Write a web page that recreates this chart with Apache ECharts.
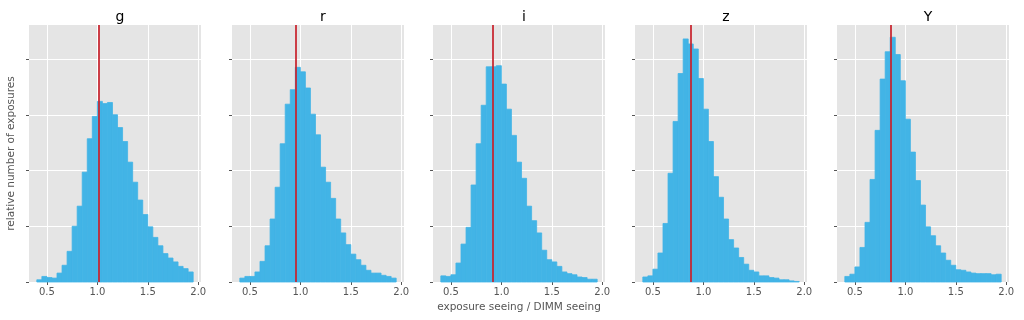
<!DOCTYPE html>
<html>
<head>
<meta charset="utf-8">
<script src="https://cdn.jsdelivr.net/npm/echarts@6/dist/echarts.min.js"></script>
<style>
  html, body { margin: 0; padding: 0; background: #fff; }
  #main { width: 1024px; height: 320px; }
</style>
</head>
<body>
<div id="main"></div>
<script>
var myChart = echarts.init(document.getElementById('main'));

// bin edges: 0.40 .. 1.95 step 0.05 (31 bins)
var binStarts = [0.40, 0.45, 0.50, 0.55, 0.60, 0.65, 0.70, 0.75, 0.80, 0.85,
                 0.90, 0.95, 1.00, 1.05, 1.10, 1.15, 1.20, 1.25, 1.30, 1.35,
                 1.40, 1.45, 1.50, 1.55, 1.60, 1.65, 1.70, 1.75, 1.80, 1.85, 1.90];
var binWidth = 0.05;

var filters = ['g', 'r', 'i', 'z', 'Y'];
var medians = [1.01, 0.95, 0.91, 0.88, 0.86];

// relative counts per bin
var gCounts = [0.04, 0.10, 0.08, 0.07, 0.16, 0.30, 0.55, 1.00, 1.36, 1.97,
               2.57, 2.97, 3.24, 3.20, 3.22, 3.00, 2.77, 2.52, 2.15, 1.79,
               1.47, 1.21, 0.99, 0.80, 0.65, 0.51, 0.43, 0.36, 0.28, 0.24, 0.18];
var rCounts = [0.07, 0.10, 0.10, 0.18, 0.37, 0.65, 1.13, 1.70, 2.48, 3.19,
               3.45, 3.85, 3.77, 3.48, 3.01, 2.64, 2.06, 1.79, 1.50, 1.13,
               0.88, 0.67, 0.50, 0.40, 0.30, 0.21, 0.16, 0.16, 0.12, 0.10, 0.07];
var iCounts = [0.11, 0.10, 0.13, 0.34, 0.68, 0.98, 1.74, 2.48, 3.17, 3.86,
               3.86, 3.88, 3.55, 3.10, 2.63, 2.15, 1.86, 1.36, 1.10, 0.88,
               0.57, 0.40, 0.36, 0.28, 0.18, 0.15, 0.13, 0.09, 0.08, 0.05, 0.05];
var zCounts = [0.09, 0.11, 0.23, 0.52, 1.05, 1.95, 2.88, 3.74, 4.36, 4.27,
               4.18, 3.65, 3.10, 2.52, 1.89, 1.52, 1.13, 0.76, 0.61, 0.44,
               0.32, 0.21, 0.18, 0.11, 0.11, 0.08, 0.07, 0.04, 0.04, 0.02, 0.01];
var yCounts = [0.10, 0.14, 0.27, 0.62, 1.07, 1.84, 2.72, 3.64, 4.13, 4.39,
               4.08, 3.61, 2.92, 2.33, 1.82, 1.38, 0.99, 0.83, 0.65, 0.52,
               0.39, 0.30, 0.22, 0.21, 0.18, 0.16, 0.15, 0.15, 0.15, 0.13, 0.14];

var allCounts = [gCounts, rCounts, iCounts, zCounts, yCounts];

var xTicks = [0.5, 1.0, 1.5, 2.0];
var yTicks = [0, 1, 2, 3, 4];

var gridLefts = [29, 232, 433, 635, 837];
var gridWidth = 172;
var gridTop = 25;
var gridHeight = 257;

var grids = [], xAxes = [], yAxes = [], titles = [], series = [];

filters.forEach(function (f, k) {
  grids.push({
    left: gridLefts[k], top: gridTop, width: gridWidth, height: gridHeight,
    show: true, backgroundColor: '#E5E5E5', borderWidth: 0
  });
  titles.push({
    text: f,
    left: gridLefts[k] + gridWidth / 2,
    top: 5,
    textAlign: 'center',
    textStyle: { fontFamily: 'DejaVu Sans', fontSize: 14, fontWeight: 'normal', color: '#000' }
  });
  xAxes.push({
    type: 'value', gridIndex: k, min: 0.3225, max: 2.0275,
    axisLine: { show: false },
    axisTick: { show: true, length: 3, customValues: xTicks, lineStyle: { color: '#555' } },
    axisLabel: {
      customValues: xTicks, color: '#555', fontFamily: 'DejaVu Sans', fontSize: 10, margin: 5,
      formatter: function (v) { return v.toFixed(1); }
    },
    splitLine: { show: true, lineStyle: { color: '#fff', width: 1 } },
    name: k === 2 ? 'exposure seeing / DIMM seeing' : '',
    nameLocation: 'middle', nameGap: 18,
    nameTextStyle: { color: '#555', fontFamily: 'DejaVu Sans', fontSize: 10.5 }
  });
  yAxes.push({
    type: 'value', gridIndex: k, min: 0, max: 4.61,
    axisLine: { show: false },
    axisTick: { show: true, length: 3, customValues: yTicks, lineStyle: { color: '#555' } },
    axisLabel: { show: true, customValues: yTicks, formatter: function () { return ''; } },
    splitLine: { show: true, lineStyle: { color: '#fff', width: 1 } },
    name: k === 0 ? 'relative number of exposures' : '',
    nameLocation: 'middle', nameGap: 10,
    nameTextStyle: { color: '#555', fontFamily: 'DejaVu Sans', fontSize: 10.5 }
  });

  var data = binStarts.map(function (s, j) { return [s, s + binWidth, allCounts[k][j]]; });
  series.push({
    type: 'custom',
    xAxisIndex: k, yAxisIndex: k,
    data: data,
    encode: { x: [0, 1], y: 2 },
    renderItem: function (params, api) {
      var p0 = api.coord([api.value(0), 0]);
      var p1 = api.coord([api.value(1), api.value(2)]);
      return {
        type: 'rect',
        shape: { x: p0[0], y: p1[1], width: p1[0] - p0[0], height: p0[1] - p1[1] },
        style: { fill: '#42B4E6', stroke: '#42B4E6', lineWidth: 0.8 }
      };
    },
    markLine: {
      silent: true, symbol: 'none', animation: false,
      label: { show: false },
      lineStyle: { color: '#C8202A', width: 2, type: 'solid', opacity: 0.85 },
      data: [{ xAxis: medians[k] }]
    },
    animation: false
  });
});

var option = {
  animation: false,
  title: titles,
  grid: grids,
  xAxis: xAxes,
  yAxis: yAxes,
  series: series
};

myChart.setOption(option);
</script>
</body>
</html>
